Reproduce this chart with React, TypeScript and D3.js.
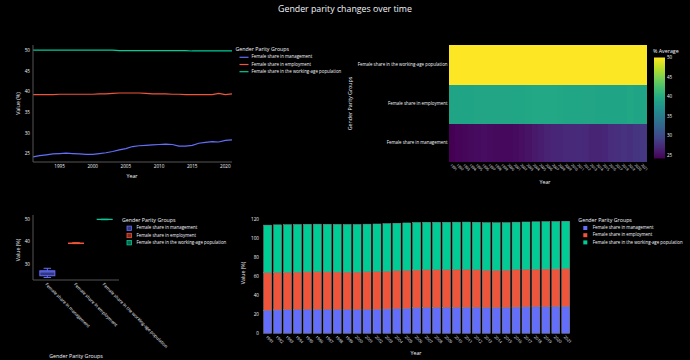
import * as d3 from "d3";

const YEARS = [
  1991, 1992, 1993, 1994, 1995, 1996, 1997, 1998, 1999, 2000, 2001, 2002, 2003, 2004, 2005, 2006,
  2007, 2008, 2009, 2010, 2011, 2012, 2013, 2014, 2015, 2016, 2017, 2018, 2019, 2020, 2021,
];
const MANAGEMENT = [
  24.3, 24.6, 24.8, 25.0, 25.1, 25.2, 25.1, 25.0, 24.9, 24.9, 25.1, 25.3, 25.6, 26.0, 26.3, 26.8,
  27.0, 27.1, 27.2, 27.3, 27.4, 27.3, 26.9, 26.9, 27.1, 27.6, 27.8, 28.0, 27.9, 28.3, 28.4,
];
const EMPLOYMENT = [
  39.4, 39.4, 39.4, 39.4, 39.5, 39.5, 39.5, 39.5, 39.5, 39.5, 39.6, 39.6, 39.7, 39.8, 39.8, 39.8,
  39.8, 39.7, 39.6, 39.6, 39.6, 39.5, 39.5, 39.4, 39.4, 39.4, 39.4, 39.4, 39.7, 39.4, 39.6,
];
const WORKING_AGE = [
  50.2, 50.2, 50.2, 50.2, 50.2, 50.2, 50.2, 50.2, 50.2, 50.2, 50.2, 50.2, 50.2, 50.1, 50.1, 50.1,
  50.1, 50.1, 50.1, 50.1, 50.1, 50.1, 50.1, 50.1, 50.0, 50.0, 50.0, 50.0, 50.0, 50.0, 50.0,
];
const GROUPS = [
  "Female share in management",
  "Female share in employment",
  "Female share in the working-age population",
];
const COLORS = ["#636efa", "#EF553B", "#00cc96"];
const LINE_X_TICKS = [1995, 2000, 2005, 2010, 2015, 2020];
const LINE_Y_TICKS = [25, 30, 35, 40, 45, 50];
const BOX_Y_TICKS = [30, 40, 50];
const BAR_Y_TICKS = [0, 20, 40, 60, 80, 100, 120];
const CBAR_TICKS = [25, 30, 35, 40, 45, 50];

const SERIES = [MANAGEMENT, EMPLOYMENT, WORKING_AGE];
const FONT = "'Open Sans', verdana, arial, sans-serif";
const TXT = "#f2f5fa";
const AXIS = "#555";
const LBL = 4.4;

function Legend({x, y, kind}: {x: number; y: number; kind: "line" | "box" | "bar"}) {
  return (
    <g transform={`translate(${x},${y})`} fontFamily={FONT} fill={TXT}>
      <text x={0} y={0} fontSize={5.3} dominantBaseline="middle">Gender Parity Groups</text>
      {GROUPS.map((g, i) => {
        const cy = 7.3 + i * 7.2;
        return (
          <g key={g}>
            {kind === "line" ? (
              <line x1={4} x2={13} y1={cy} y2={cy} stroke={COLORS[i]} strokeWidth={1.2} />
            ) : kind === "box" ? (
              <rect x={5} y={cy - 2.2} width={4.4} height={4.4} fill={COLORS[i]} fillOpacity={0.5} stroke={COLORS[i]} strokeWidth={0.8} />
            ) : (
              <rect x={5} y={cy - 2} width={4} height={4} fill={COLORS[i]} />
            )}
            <text x={kind === "line" ? 16 : 14.5} y={cy} fontSize={LBL} dominantBaseline="middle">{g}</text>
          </g>
        );
      })}
    </g>
  );
}

function LineChart() {
  const x = d3.scaleLinear().domain([1991, 2021]).range([33, 232]);
  const y = d3.scaleLinear().domain([23.05, 51.45]).range([162, 45]);
  const line = d3.line<number>().x((_, i) => x(YEARS[i])).y((d) => y(d));
  return (
    <g fontFamily={FONT} fill={TXT}>
      {SERIES.map((s, i) => (
        <path key={i} d={line(s) ?? ""} fill="none" stroke={COLORS[i]} strokeWidth={1.2} />
      ))}
      <line x1={33} x2={33} y1={45} y2={162} stroke={AXIS} />
      <line x1={33} x2={232} y1={162} y2={162} stroke={AXIS} />
      {LINE_Y_TICKS.map((t) => (
        <text key={t} x={30} y={y(t)} fontSize={4.6} textAnchor="end" dominantBaseline="middle">{t}</text>
      ))}
      {LINE_X_TICKS.map((t) => (
        <text key={t} x={x(t)} y={166.7} fontSize={4.6} textAnchor="middle" dominantBaseline="middle">{t}</text>
      ))}
      <text x={132} y={176.7} fontSize={5.3} textAnchor="middle" dominantBaseline="middle">Year</text>
      <text transform="translate(18.3,103.5) rotate(-90)" fontSize={5.3} textAnchor="middle" dominantBaseline="middle">Value (%)</text>
      <Legend x={235.5} y={50} kind="line" />
    </g>
  );
}

function Heatmap() {
  const all = SERIES.flat();
  const [min = 0, max = 0] = d3.extent(all);
  const x = d3.scaleBand<number>().domain(YEARS).range([449, 646]);
  const y = d3.scaleBand<string>().domain([...GROUPS].reverse()).range([45, 162]);
  const color = d3.scaleSequential(d3.interpolateViridis).domain([min, max]);
  const cb = d3.scaleLinear().domain([min, max]).range([158.5, 57.5]);
  const stops = d3.range(0, 1.0001, 0.1);
  return (
    <g fontFamily={FONT} fill={TXT}>
      <defs>
        <linearGradient id="viridis" x1="0" x2="0" y1="1" y2="0">
          {stops.map((t) => (
            <stop key={t} offset={t} stopColor={d3.interpolateViridis(t)} />
          ))}
        </linearGradient>
      </defs>
      <g shapeRendering="crispEdges">
        {SERIES.map((s, gi) =>
          s.map((v, i) => (
            <rect key={`${gi}-${i}`} x={x(YEARS[i])} y={y(GROUPS[gi])} width={x.bandwidth() + 1} height={y.bandwidth() + (gi === 0 ? 0 : 1)} fill={color(v)} />
          ))
        )}
      </g>
      {GROUPS.map((g) => (
        <text key={g} x={447.5} y={(y(g) ?? 0) + y.bandwidth() / 2} fontSize={LBL} textAnchor="end" dominantBaseline="middle">{g}</text>
      ))}
      {YEARS.map((t) => (
        <text key={t} transform={`translate(${(x(t) ?? 0) + x.bandwidth() / 2 - 1.5},${164.5}) rotate(45)`} fontSize={3.6} dominantBaseline="middle">{t}</text>
      ))}
      <text x={545} y={182.7} fontSize={5.3} textAnchor="middle" dominantBaseline="middle">Year</text>
      <text transform="translate(350.7,103.5) rotate(-90)" fontSize={5.3} textAnchor="middle" dominantBaseline="middle">Gender Parity Groups</text>
      <rect x={654} y={57.5} width={11} height={101} fill="url(#viridis)" />
      {CBAR_TICKS.map((t) => (
        <text key={t} x={667} y={cb(t)} fontSize={4.5} dominantBaseline="middle">{t}</text>
      ))}
      <text x={653} y={51.5} fontSize={5.3} dominantBaseline="middle">% Average</text>
    </g>
  );
}

function BoxChart() {
  const x = d3.scaleBand<string>().domain(GROUPS).range([33, 119]);
  const y = d3.scaleLinear().domain([23.2, 52.1]).range([280, 215]);
  const bw = 15;
  return (
    <g fontFamily={FONT} fill={TXT}>
      {SERIES.map((s, i) => {
        const sorted = [...s].sort(d3.ascending);
        const q1 = d3.quantile(sorted, 0.25) ?? 0;
        const med = d3.quantile(sorted, 0.5) ?? 0;
        const q3 = d3.quantile(sorted, 0.75) ?? 0;
        const lo = d3.min(s) ?? 0;
        const hi = d3.max(s) ?? 0;
        const cx = (x(GROUPS[i]) ?? 0) + x.bandwidth() / 2;
        const c = COLORS[i];
        return (
          <g key={i} stroke={c} strokeWidth={1}>
            <line x1={cx} x2={cx} y1={y(hi)} y2={y(q3)} />
            <line x1={cx} x2={cx} y1={y(q1)} y2={y(lo)} />
            <line x1={cx - bw / 4} x2={cx + bw / 4} y1={y(hi)} y2={y(hi)} />
            <line x1={cx - bw / 4} x2={cx + bw / 4} y1={y(lo)} y2={y(lo)} />
            <rect x={cx - bw / 2} y={y(q3)} width={bw} height={Math.max(0.1, y(q1) - y(q3))} fill={c} fillOpacity={0.5} />
            <line x1={cx - bw / 2} x2={cx + bw / 2} y1={y(med)} y2={y(med)} />
          </g>
        );
      })}
      <line x1={33} x2={33} y1={215} y2={280} stroke={AXIS} />
      <line x1={33} x2={119} y1={280} y2={280} stroke={AXIS} />
      {BOX_Y_TICKS.map((t) => (
        <text key={t} x={30} y={y(t)} fontSize={4.6} textAnchor="end" dominantBaseline="middle">{t}</text>
      ))}
      {GROUPS.map((g) => (
        <text key={g} transform={`translate(${(x(g) ?? 0) + x.bandwidth() / 2 - 1.5},${284}) rotate(45)`} fontSize={LBL} dominantBaseline="middle">{g}</text>
      ))}
      <text x={76} y={356.5} fontSize={5.3} textAnchor="middle" dominantBaseline="middle">Gender Parity Groups</text>
      <text transform="translate(18.3,250) rotate(-90)" fontSize={5.3} textAnchor="middle" dominantBaseline="middle">Value (%)</text>
      <Legend x={122} y={221} kind="box" />
    </g>
  );
}

function BarChart() {
  const x = d3.scaleBand<number>().domain(YEARS).range([261.7, 571.7]).padding(0.2);
  const y = d3.scaleLinear().domain([0, 123.5]).range([333.3, 216]);
  return (
    <g fontFamily={FONT} fill={TXT}>
      {YEARS.map((yr, i) => {
        let base = 0;
        return (
          <g key={yr}>
            {SERIES.map((s, gi) => {
              const y0 = base;
              base += s[i];
              return (
                <rect key={gi} x={x(yr)} y={y(base)} width={x.bandwidth()} height={y(y0) - y(base)} fill={COLORS[gi]} stroke="#8a8a8a" strokeWidth={0.5} />
              );
            })}
          </g>
        );
      })}
      {BAR_Y_TICKS.map((t) => (
        <text key={t} x={259} y={y(t)} fontSize={4.6} textAnchor="end" dominantBaseline="middle">{t}</text>
      ))}
      {YEARS.map((t) => (
        <text key={t} transform={`translate(${(x(t) ?? 0) + x.bandwidth() / 2 - 1.5},${336.5}) rotate(45)`} fontSize={4} dominantBaseline="middle">{t}</text>
      ))}
      <text x={416} y={354} fontSize={5.3} textAnchor="middle" dominantBaseline="middle">Year</text>
      <text transform="translate(244,273) rotate(-90)" fontSize={5.3} textAnchor="middle" dominantBaseline="middle">Value (%)</text>
      <Legend x={578.3} y={220.7} kind="bar" />
    </g>
  );
}

export default function App() {
  return (
    <svg width={690} height={360} style={{position: "fixed", left: 0, top: 0, background: "#000"}}>
      <rect width={690} height={360} fill="#000" />
      <text x={345} y={9.5} fontFamily={FONT} fontSize={8.8} fill={TXT} textAnchor="middle" dominantBaseline="middle">
        Gender parity changes over time
      </text>
      <LineChart />
      <Heatmap />
      <BoxChart />
      <BarChart />
    </svg>
  );
}
